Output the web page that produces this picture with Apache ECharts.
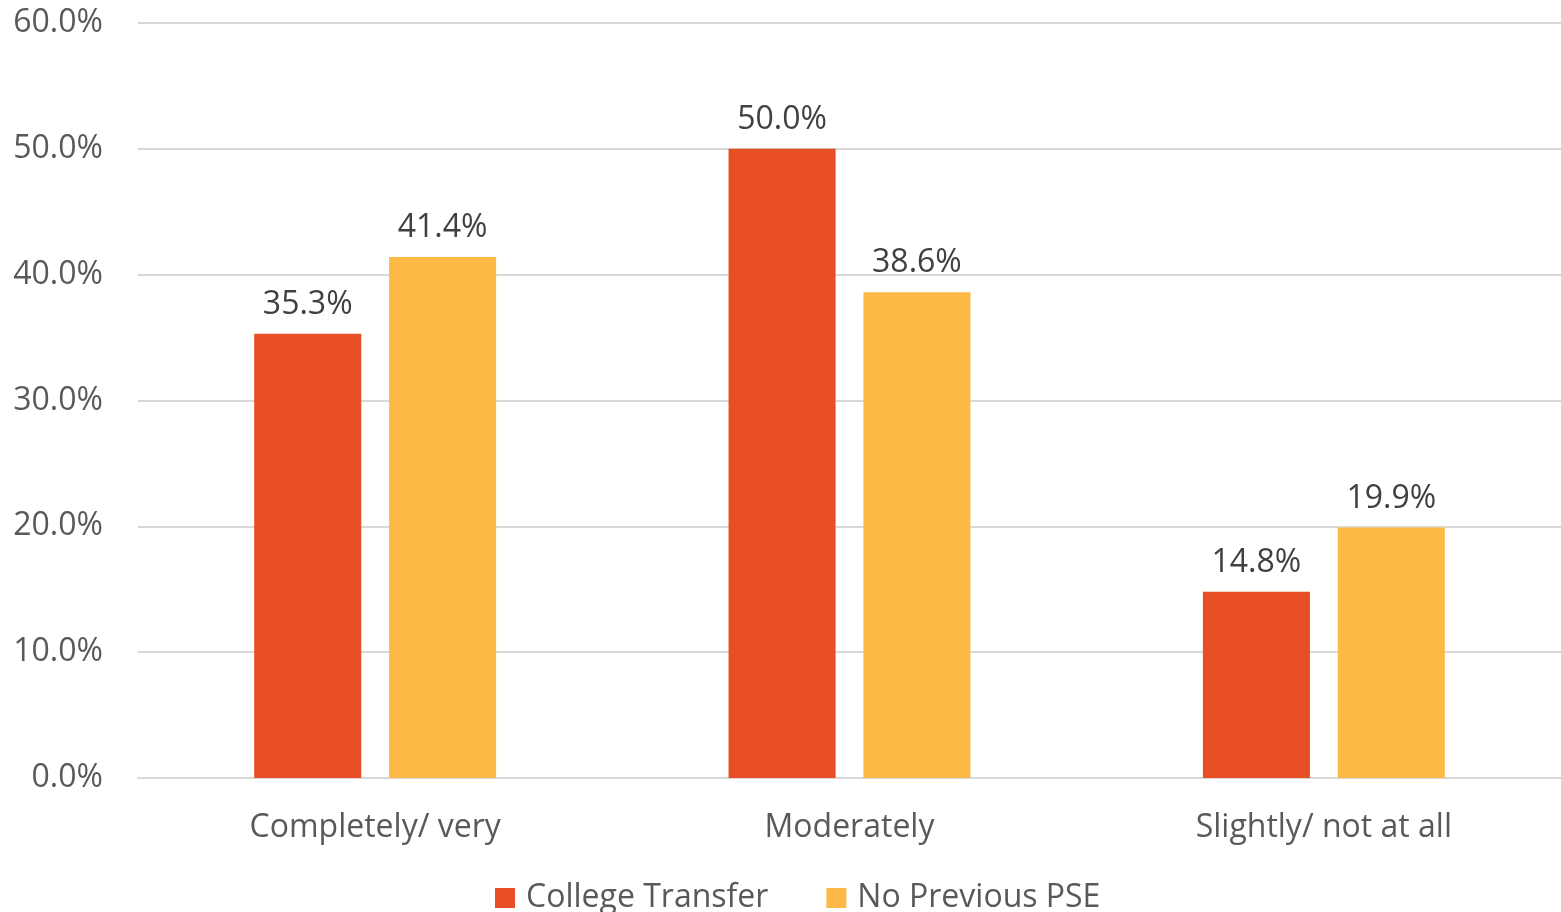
<!DOCTYPE html>
<html lang="en">
<head>
    <meta charset="utf-8"/>
    <title>Bar chart</title>
    <script src="https://cdn.jsdelivr.net/npm/echarts@6/dist/echarts.min.js"></script>
    <style>
        html, body { margin: 0; padding: 0; background: #fff; }
        #main { width: 1561px; height: 912px; }
    </style>
</head>
<body>
<div id="main"></div>
<script>
    var categories = ['Completely/ very', 'Moderately', 'Slightly/ not at all'];
    var seriesNames = ['College Transfer', 'No Previous PSE'];
    var collegeTransfer = [35.3, 50.0, 14.8];
    var noPreviousPSE = [41.4, 38.6, 19.9];
    var colors = ['#E84E23', '#FDB946'];

    var fontFamily = '"Open Sans", sans-serif';

    function barSeries(name, values, color) {
        return {
            name: name,
            type: 'bar',
            data: values,
            barGap: '26%',
            barCategoryGap: '49%',
            itemStyle: { color: color },
            label: {
                show: true,
                position: 'top',
                distance: 13,
                fontSize: 32,
                fontFamily: fontFamily,
                color: '#404040',
                formatter: function (p) { return p.value.toFixed(1) + '%'; }
            }
        };
    }

    var myChart = echarts.init(document.getElementById('main'));
    var option = {
        animation: false,
        color: colors,
        textStyle: { fontFamily: fontFamily },
        grid: {
            left: 138,
            right: 0,
            top: 23,
            bottom: 134
        },
        legend: {
            bottom: -7,
            left: 490,
            itemWidth: 20,
            itemHeight: 20,
            itemGap: 58,
            icon: 'rect',
            textStyle: { fontSize: 32, color: '#595959', fontFamily: fontFamily, padding: [0, 0, 0, 6] },
            data: seriesNames
        },
        xAxis: {
            type: 'category',
            data: categories,
            axisLine: { lineStyle: { color: '#D9D9D9', width: 2 } },
            axisTick: { show: false },
            axisLabel: { fontSize: 32, color: '#595959', margin: 34, fontFamily: fontFamily }
        },
        yAxis: {
            type: 'value',
            min: 0,
            max: 60,
            interval: 10,
            axisLine: { show: false },
            axisTick: { show: false },
            splitLine: { lineStyle: { color: '#D9D9D9', width: 2 } },
            axisLabel: {
                fontSize: 32,
                color: '#595959',
                margin: 35,
                fontFamily: fontFamily,
                formatter: function (v) { return v.toFixed(1) + '%'; }
            }
        },
        series: [
            barSeries(seriesNames[0], collegeTransfer, colors[0]),
            barSeries(seriesNames[1], noPreviousPSE, colors[1])
        ]
    };
    myChart.setOption(option);
</script>
</body>
</html>
